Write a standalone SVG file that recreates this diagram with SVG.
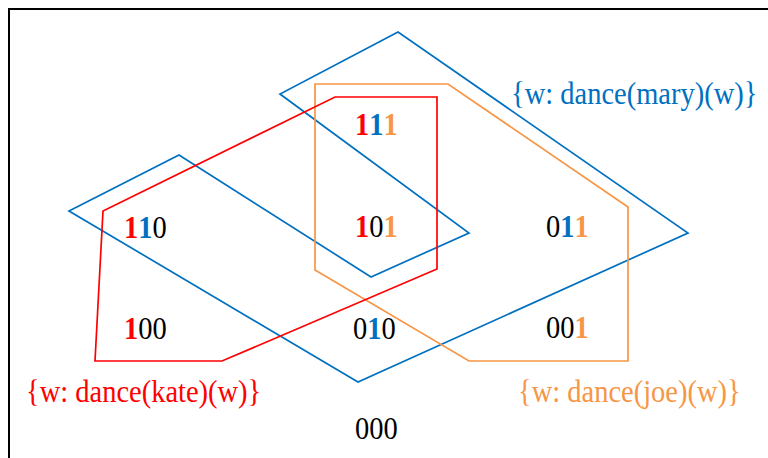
<svg xmlns="http://www.w3.org/2000/svg" width="768" height="458" viewBox="0 0 768 458">
<style>
.s{fill:none;stroke-width:1.7;stroke-linejoin:miter}
.t{font-family:"Liberation Serif","Times New Roman",serif;font-size:28.5px}
.k{fill:#000}
.r{fill:#FF0000}
.b{fill:#0070C0}
.o{fill:#F79646}
.B{font-weight:bold}
</style>
<rect width="768" height="458" fill="#fff"/>
<path d="M9,458 V9 H768" fill="none" stroke="#000" stroke-width="2"/>
<g id="edges">
<polygon id="mary" class="s" stroke="#0070C0" points="69,211 179,155 371,277 469,233 280,94 398,32 688,233 358,382"/>
<polygon id="joe" class="s" stroke="#F79646" points="315,84 448,84 628,207 628,361 469,361 315,270"/>
<polygon id="kate" class="s" stroke="#FF0000" points="335,97 437,97 437,269 222,361 95,361 103,211"/>
</g>
<g id="label-mary" transform="translate(511,104) scale(1,1.1)"><text class="t b">{w: dance(mary)(w)}</text></g>
<g id="label-kate" transform="translate(26,402) scale(1,1.1)"><text class="t r">{w: dance(kate)(w)}</text></g>
<g id="label-joe" transform="translate(518,402) scale(1,1.1)"><text class="t o">{w: dance(joe)(w)}</text></g>
<g id="n111" transform="translate(355,135) scale(1,1.1)"><text class="t k"><tspan class="r B">1</tspan><tspan class="b B">1</tspan><tspan class="o B">1</tspan></text></g>
<g id="n110" transform="translate(124,238) scale(1,1.1)"><text class="t k"><tspan class="r B">1</tspan><tspan class="b B">1</tspan>0</text></g>
<g id="n101" transform="translate(355,237) scale(1,1.1)"><text class="t k"><tspan class="r B">1</tspan>0<tspan class="o B">1</tspan></text></g>
<g id="n011" transform="translate(546,237) scale(1,1.1)"><text class="t k">0<tspan class="b B">1</tspan><tspan class="o B">1</tspan></text></g>
<g id="n100" transform="translate(124,339) scale(1,1.1)"><text class="t k"><tspan class="r B">1</tspan>00</text></g>
<g id="n010" transform="translate(353,339) scale(1,1.1)"><text class="t k">0<tspan class="b B">1</tspan>0</text></g>
<g id="n001" transform="translate(546,338) scale(1,1.1)"><text class="t k">00<tspan class="o B">1</tspan></text></g>
<g id="n000" transform="translate(355,439) scale(1,1.1)"><text class="t k">000</text></g>
</svg>
